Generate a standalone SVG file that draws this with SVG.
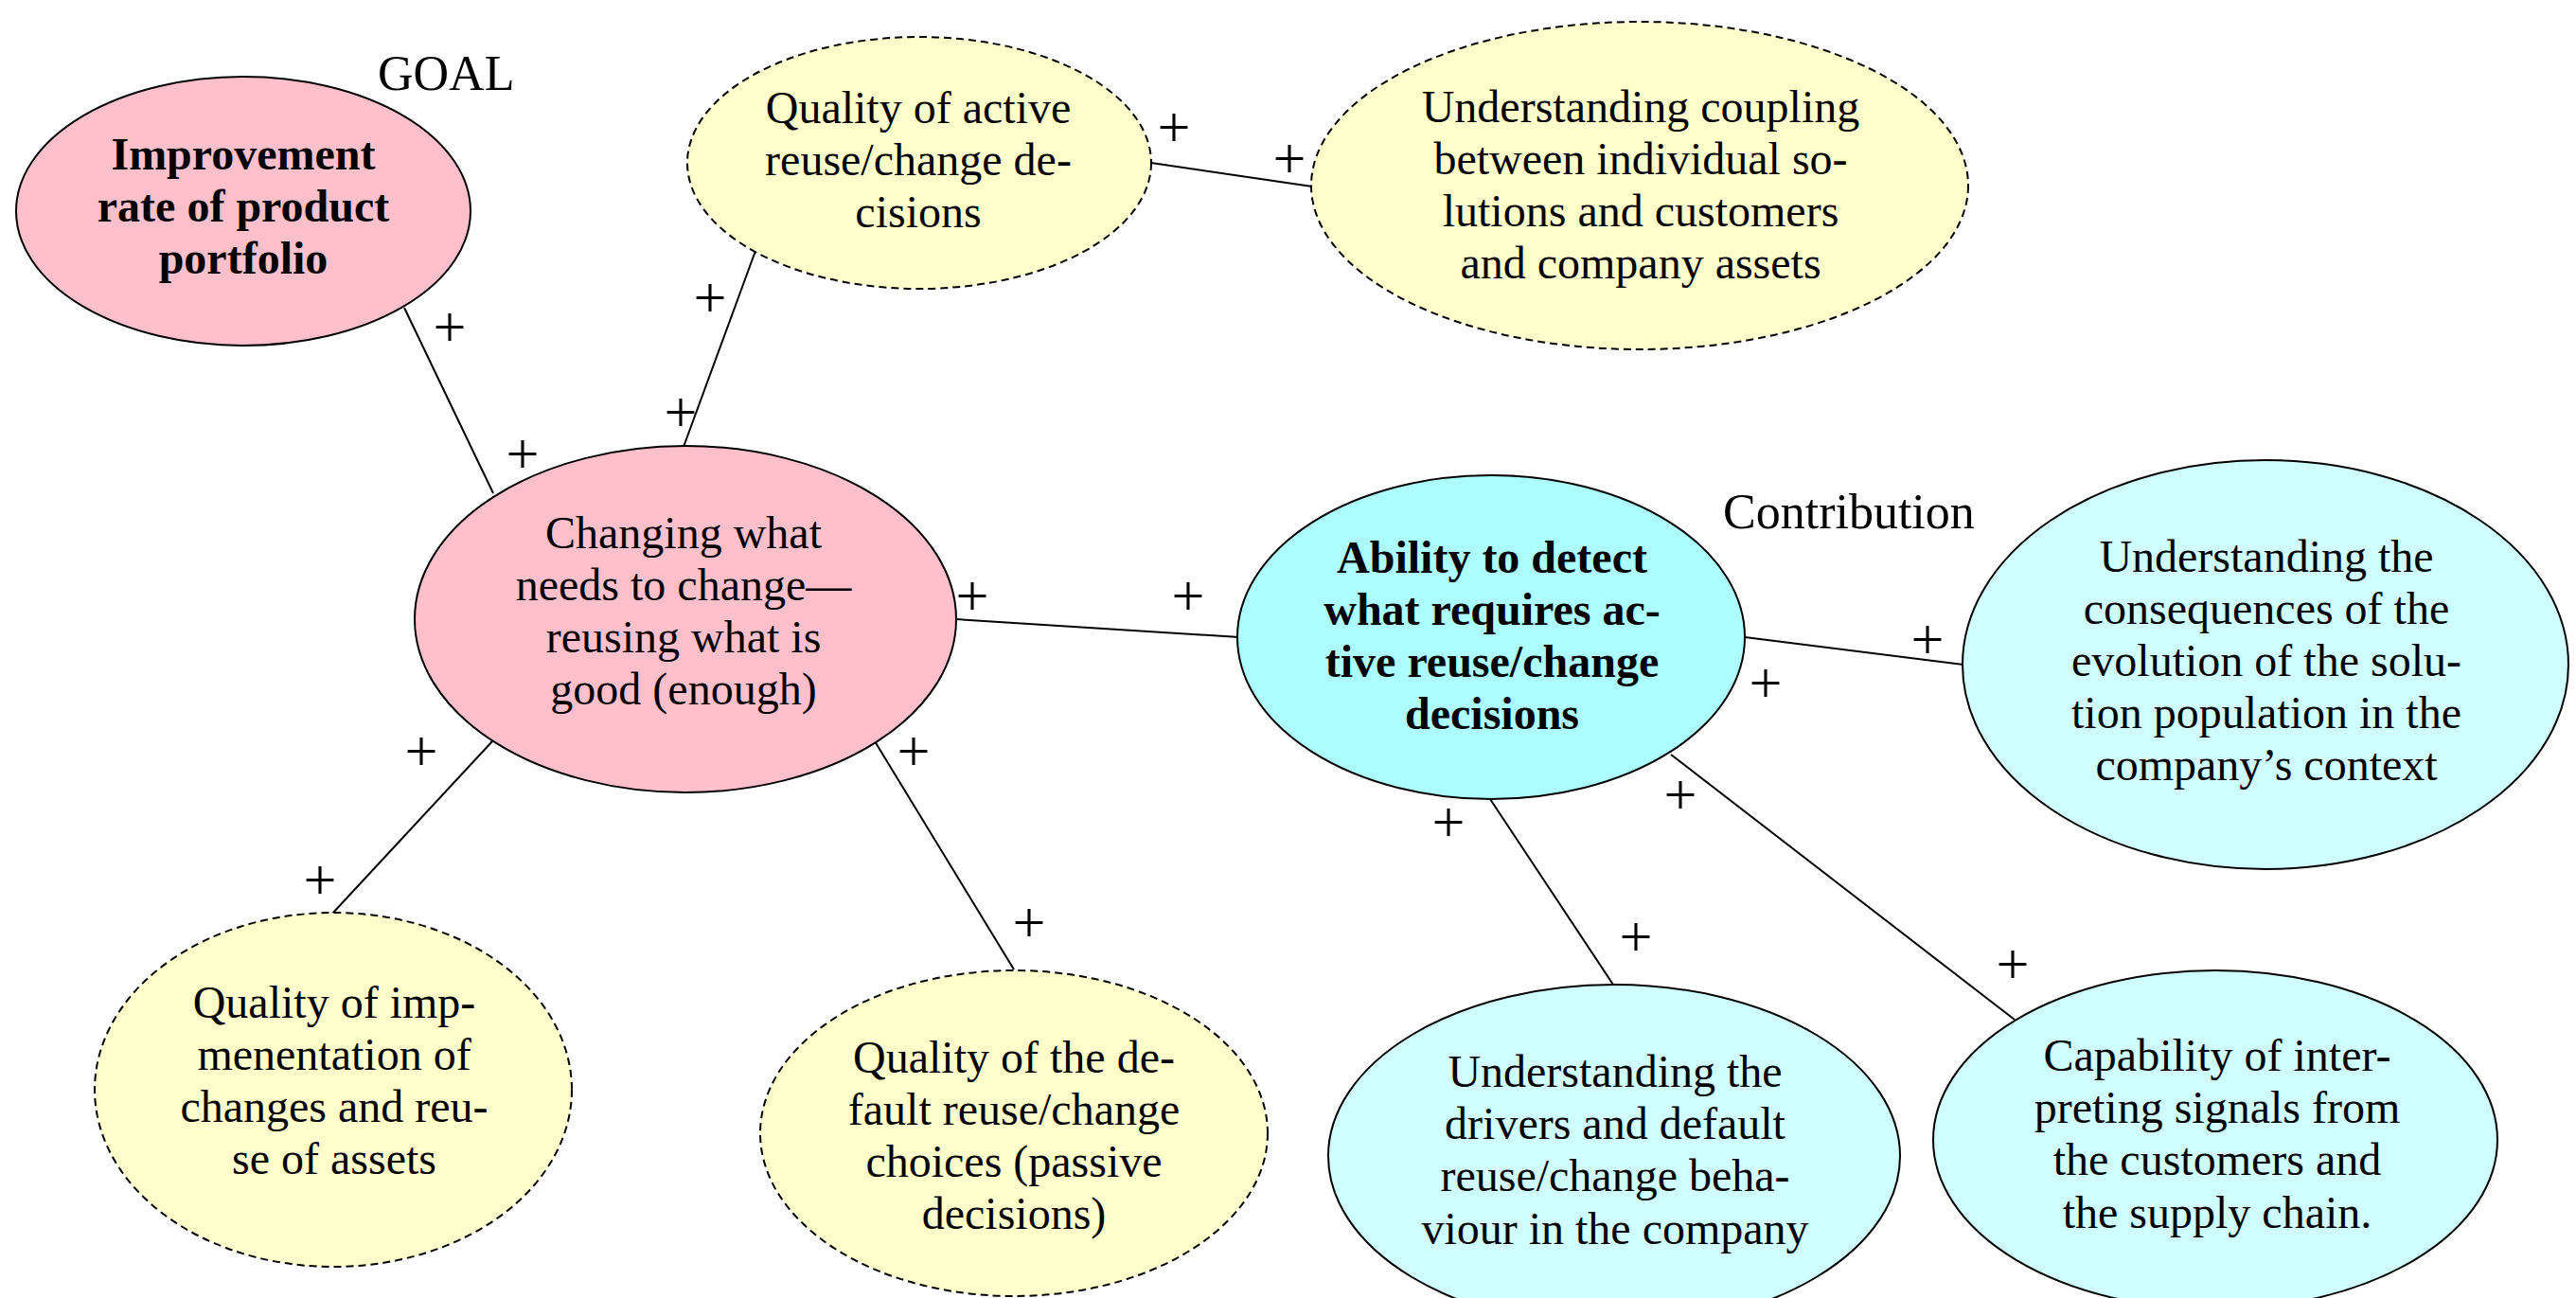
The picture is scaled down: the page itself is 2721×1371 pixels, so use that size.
<svg xmlns="http://www.w3.org/2000/svg" width="2721" height="1371" viewBox="0 0 2721 1371">
  <style>
    text { font-family: "Liberation Serif", "Times New Roman", serif; fill: #000; }
    .lbl { font-size: 48px; text-anchor: middle; }
    .bold { font-weight: bold; }
    .tag { font-size: 52px; }
    .plus { font-size: 62px; text-anchor: middle; }
    .node { stroke: #000; stroke-width: 2; }
    .dashed { stroke-dasharray: 8 5; }
    .pink { fill: #ffc0cb; }
    .yellow { fill: #ffffcc; }
    .cyan { fill: #adffff; }
    .lcyan { fill: #cfffff; }
    #connectors line { stroke: #000; stroke-width: 2; }
  </style>

  <rect width="2721" height="1371" fill="#fff"/>

  <!-- connectors between nodes -->
  <g id="connectors">
    <line x1="427" y1="325" x2="521" y2="521"/>
    <line x1="798" y1="265" x2="722" y2="472"/>
    <line x1="1216" y1="172" x2="1386" y2="197"/>
    <line x1="1010" y1="654" x2="1309" y2="673"/>
    <line x1="520" y1="783" x2="351" y2="965"/>
    <line x1="924" y1="783" x2="1071" y2="1024"/>
    <line x1="1843" y1="673" x2="2074" y2="702"/>
    <line x1="1574" y1="844" x2="1704" y2="1040"/>
    <line x1="1765" y1="797" x2="2128" y2="1077"/>
  </g>

  <!-- polarity signs at connector ends -->
  <g id="signs">
    <text class="plus" x="475" y="366">+</text>
    <text class="plus" x="552" y="500">+</text>
    <text class="plus" x="750" y="335">+</text>
    <text class="plus" x="719" y="456">+</text>
    <text class="plus" x="1240" y="155">+</text>
    <text class="plus" x="1362" y="188">+</text>
    <text class="plus" x="1027" y="650">+</text>
    <text class="plus" x="1255" y="650">+</text>
    <text class="plus" x="445" y="814">+</text>
    <text class="plus" x="338" y="950">+</text>
    <text class="plus" x="965" y="814">+</text>
    <text class="plus" x="1087" y="995">+</text>
    <text class="plus" x="2036" y="696">+</text>
    <text class="plus" x="1865" y="742">+</text>
    <text class="plus" x="1530" y="889">+</text>
    <text class="plus" x="1775" y="860">+</text>
    <text class="plus" x="1728" y="1010">+</text>
    <text class="plus" x="2126" y="1039">+</text>
  </g>

  <!-- section captions -->
  <text class="tag" x="399" y="95">GOAL</text>
  <text class="tag" x="1820" y="558">Contribution</text>

  <g id="improvement">
    <ellipse class="node pink" cx="257" cy="223" rx="240" ry="142"/>
    <text class="lbl bold" x="257" y="179">Improvement</text>
    <text class="lbl bold" x="257" y="234">rate of product</text>
    <text class="lbl bold" x="257" y="289">portfolio</text>
  </g>

  <g id="quality-active">
    <ellipse class="node dashed yellow" cx="971" cy="172" rx="245" ry="133"/>
    <text class="lbl" x="970" y="130">Quality of active</text>
    <text class="lbl" x="970" y="185">reuse/change de-</text>
    <text class="lbl" x="970" y="240">cisions</text>
  </g>

  <g id="understanding-coupling">
    <ellipse class="node dashed yellow" cx="1732" cy="196" rx="347" ry="173"/>
    <text class="lbl" x="1733" y="129">Understanding coupling</text>
    <text class="lbl" x="1733" y="184">between individual so-</text>
    <text class="lbl" x="1733" y="239">lutions and customers</text>
    <text class="lbl" x="1733" y="294">and company assets</text>
  </g>

  <g id="changing">
    <ellipse class="node pink" cx="724" cy="654" rx="286" ry="183"/>
    <text class="lbl" x="722" y="579">Changing what</text>
    <text class="lbl" x="722" y="634">needs to change—</text>
    <text class="lbl" x="722" y="689">reusing what is</text>
    <text class="lbl" x="722" y="744">good (enough)</text>
  </g>

  <g id="ability">
    <ellipse class="node cyan" cx="1575" cy="673" rx="268" ry="171"/>
    <text class="lbl bold" x="1576" y="605">Ability to detect</text>
    <text class="lbl bold" x="1576" y="660">what requires ac-</text>
    <text class="lbl bold" x="1576" y="715">tive reuse/change</text>
    <text class="lbl bold" x="1576" y="770">decisions</text>
  </g>

  <g id="understanding-consequences">
    <ellipse class="node lcyan" cx="2393" cy="702" rx="320" ry="216"/>
    <text class="lbl" x="2394" y="604">Understanding the</text>
    <text class="lbl" x="2394" y="659">consequences of the</text>
    <text class="lbl" x="2394" y="714">evolution of the solu-</text>
    <text class="lbl" x="2394" y="769">tion population in the</text>
    <text class="lbl" x="2394" y="824">company’s context</text>
  </g>

  <g id="quality-implementation">
    <ellipse class="node dashed yellow" cx="352" cy="1151" rx="252" ry="187"/>
    <text class="lbl" x="353" y="1075">Quality of imp-</text>
    <text class="lbl" x="353" y="1130">menentation of</text>
    <text class="lbl" x="353" y="1185">changes and reu-</text>
    <text class="lbl" x="353" y="1240">se of assets</text>
  </g>

  <g id="quality-default">
    <ellipse class="node dashed yellow" cx="1071" cy="1197" rx="268" ry="172"/>
    <text class="lbl" x="1071" y="1133">Quality of the de-</text>
    <text class="lbl" x="1071" y="1188">fault reuse/change</text>
    <text class="lbl" x="1071" y="1243">choices (passive</text>
    <text class="lbl" x="1071" y="1298">decisions)</text>
  </g>

  <g id="understanding-drivers">
    <ellipse class="node lcyan" cx="1705" cy="1221" rx="302" ry="181"/>
    <text class="lbl" x="1706" y="1148">Understanding the</text>
    <text class="lbl" x="1706" y="1203">drivers and default</text>
    <text class="lbl" x="1706" y="1258">reuse/change beha-</text>
    <text class="lbl" x="1706" y="1314">viour in the company</text>
  </g>

  <g id="capability">
    <ellipse class="node lcyan" cx="2340" cy="1204" rx="298" ry="179"/>
    <text class="lbl" x="2342" y="1131">Capability of inter-</text>
    <text class="lbl" x="2342" y="1186">preting signals from</text>
    <text class="lbl" x="2342" y="1241">the customers and</text>
    <text class="lbl" x="2342" y="1297">the supply chain.</text>
  </g>
</svg>
